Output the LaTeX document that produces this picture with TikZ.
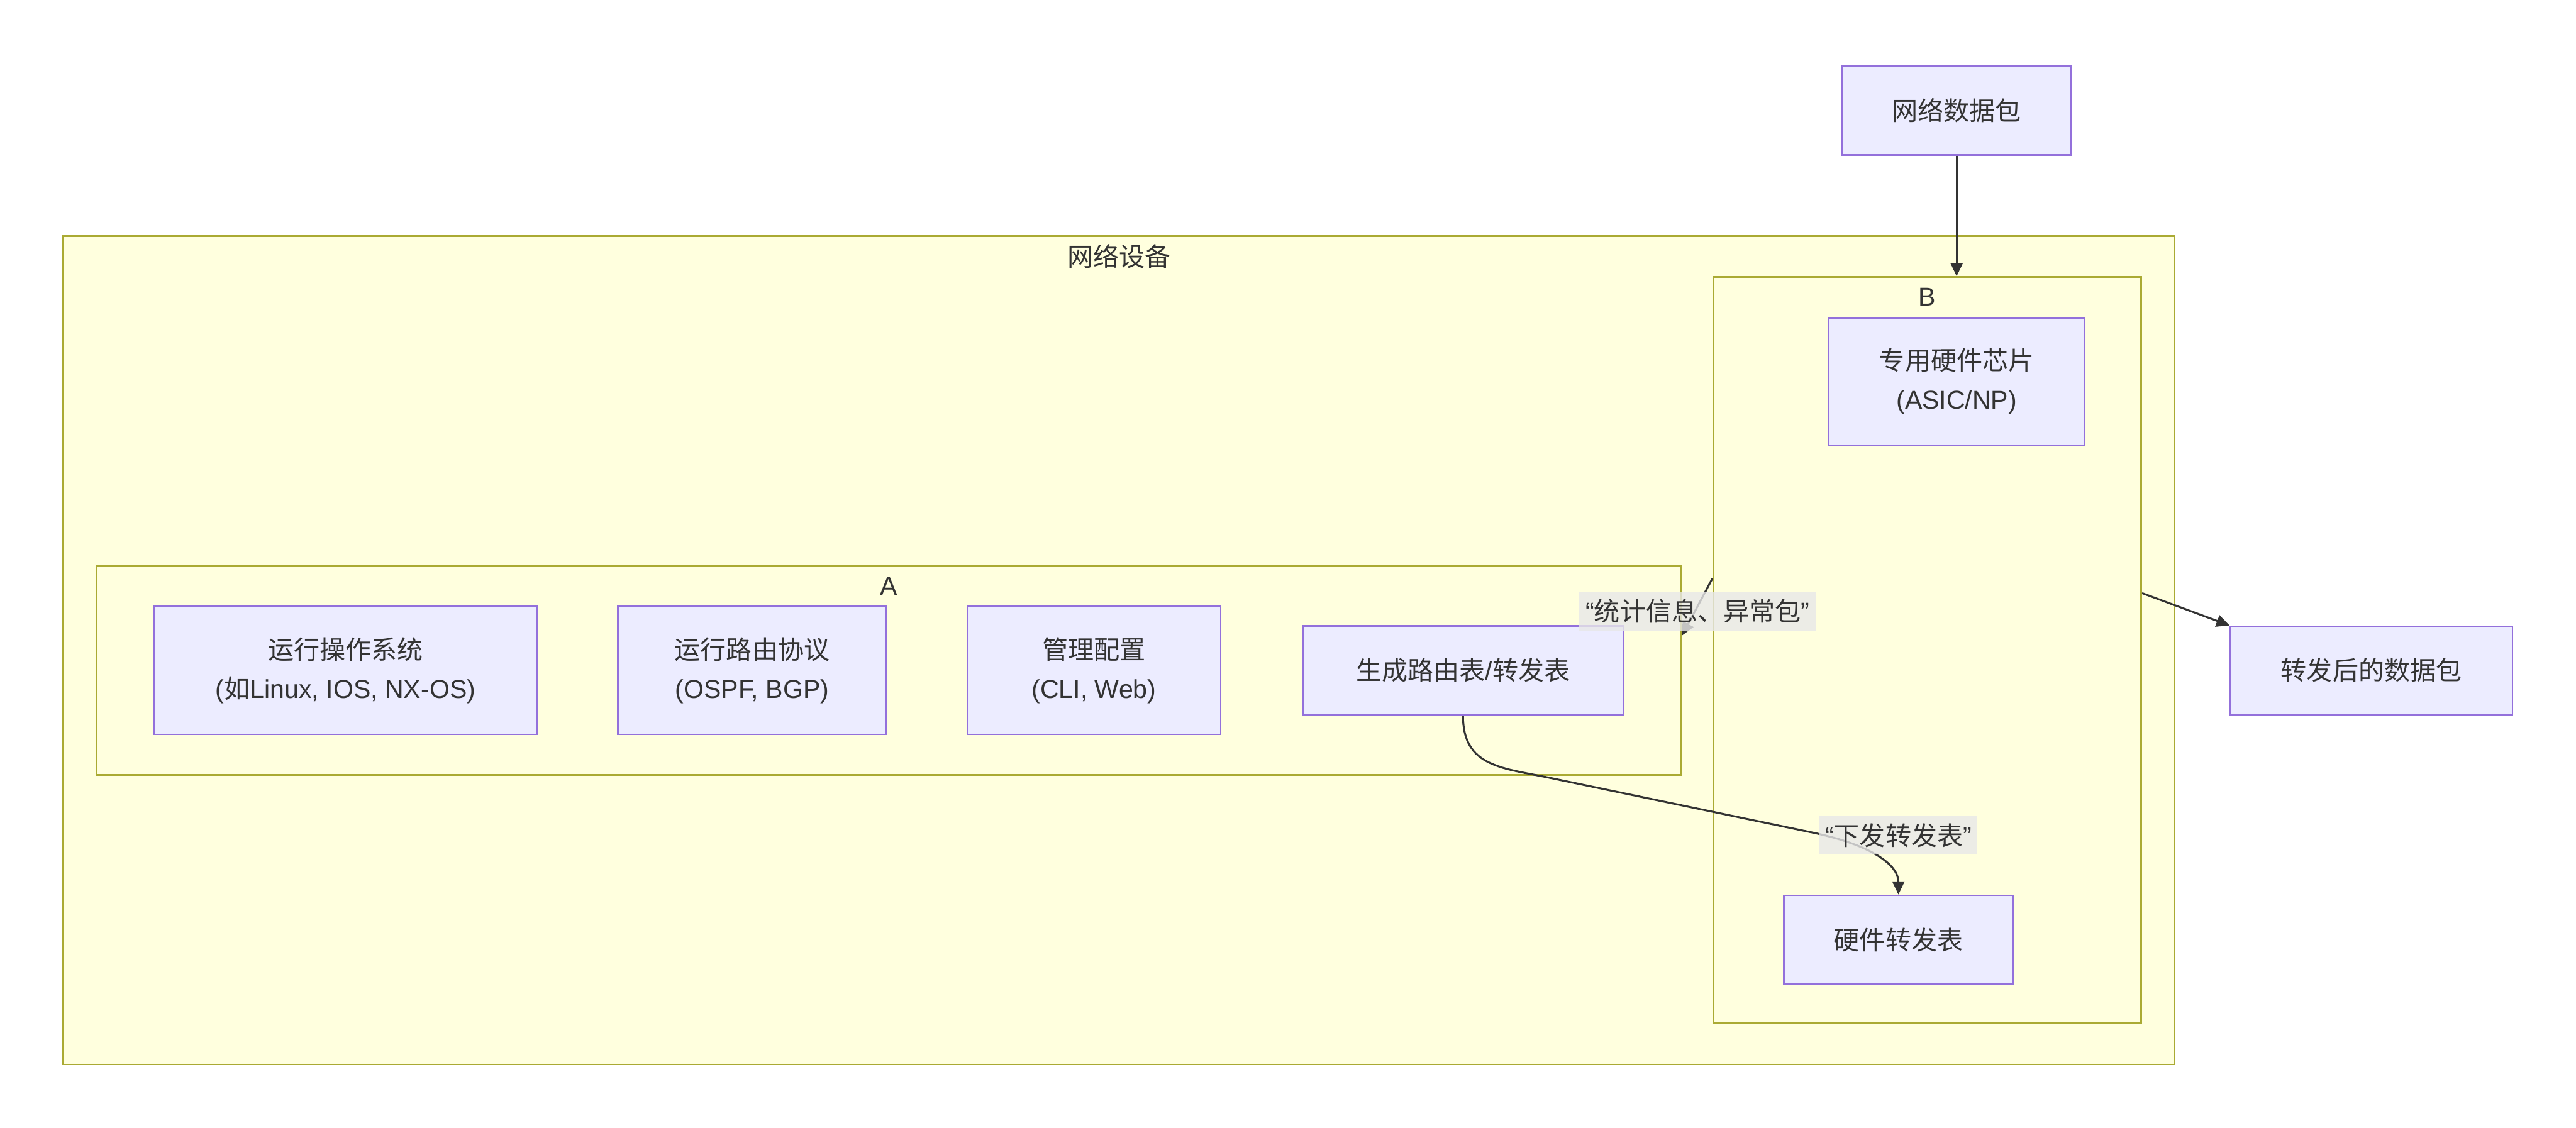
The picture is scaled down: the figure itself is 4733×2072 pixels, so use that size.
\documentclass[tikz,border=0pt]{standalone}
\usepackage{fontspec}
\setmainfont{Noto Sans CJK SC}
\newfontfamily\lat{Liberation Sans}
\usetikzlibrary{arrows.meta}
\definecolor{nodefill}{HTML}{ECECFF}
\definecolor{nodeline}{HTML}{9370DB}
\definecolor{clfill}{HTML}{FFFFDE}
\definecolor{clline}{HTML}{AAAA33}
\definecolor{txt}{HTML}{333333}
\definecolor{lblbg}{HTML}{E8E8E8}
\begin{document}
\begin{tikzpicture}[x=0.01cm,y=-0.01cm,
  every node/.style={text=txt, font=\fontsize{13.5pt}{20.5pt}\selectfont},
  box/.style={draw=nodeline, fill=nodefill, line width=0.85pt, inner sep=0, align=center},
  cluster/.style={draw=clline, fill=clfill, line width=0.85pt, inner sep=0},
  ttl/.style={inner sep=0},
  edge/.style={draw=txt, line width=1pt, -{Triangle[length=0.24cm,width=0.22cm]}},
  elabel/.style={fill=lblbg, fill opacity=0.8, text opacity=1, inner xsep=0, inner ysep=0, minimum height=0.71cm}
]
\fill[white] (0,0) rectangle (4733,2072);
\useasboundingbox (0,0) rectangle (4733,2072);

% clusters
\node[cluster, minimum width=38.77cm, minimum height=15.22cm] (dev) at (2056,1195) {};
\node[ttl] (devt) at (2056,471) {网络设备};
\node[cluster, minimum width=7.86cm, minimum height=13.71cm] (B) at (3541,1195) {};
\node[ttl] (Bt) at (3541,546) {\lat B};
\node[cluster, minimum width=29.10cm, minimum height=3.84cm] (A) at (1633,1232) {};
\node[ttl] (At) at (1633,1077) {\lat A};

% nodes
\node[box, minimum width=4.21cm, minimum height=1.63cm] (pkt) at (3595,203) {网络数据包};
\node[box, minimum width=4.69cm, minimum height=2.34cm] (asic) at (3595,701) {专用硬件芯片\\{\lat (ASIC/NP)}};
\node[box, minimum width=4.21cm, minimum height=1.63cm] (hw) at (3488,1727) {硬件转发表};
\node[box, minimum width=7.02cm, minimum height=2.35cm] (os) at (635,1232) {运行操作系统\\{\lat (}如{\lat Linux, IOS, NX-OS)}};
\node[box, minimum width=4.93cm, minimum height=2.35cm] (rp) at (1382,1232) {运行路由协议\\{\lat (OSPF, BGP)}};
\node[box, minimum width=4.65cm, minimum height=2.35cm] (mg) at (2010,1232) {管理配置\\{\lat (CLI, Web)}};
\node[box, minimum width=5.88cm, minimum height=1.63cm] (gen) at (2688,1232) {生成路由表{\lat /}转发表};
\node[box, minimum width=5.18cm, minimum height=1.62cm] (out) at (4357,1232) {转发后的数据包};

% edges
\draw[edge] (pkt.south) -- (pkt.south |- B.north);
\coordinate (bR) at (B.east |- 0,1090);
\draw[edge] (bR) -- (out.north west);
\coordinate (bL) at (B.west |- 0,1063);
\coordinate (aR) at (A.east |- 0,1168);
\draw[edge] (bL) -- (aR);
\coordinate (c1) at (2850,1430);
\coordinate (c2) at (3330,1530);
\draw[edge] (gen.south) .. controls (2688,1410) and (2760,1411) .. (c1) -- (c2) .. controls (3440,1553) and (3488,1590) .. (hw.north);

% edge labels
\node[elabel, minimum width=4.34cm] (l1) at (3119,1123) {{\lat “}统计信息、异常包{\lat ”}};
\node[elabel, minimum width=2.90cm] (l2) at (3488,1535) {{\lat “}下发转发表{\lat ”}};
\end{tikzpicture}
\end{document}
